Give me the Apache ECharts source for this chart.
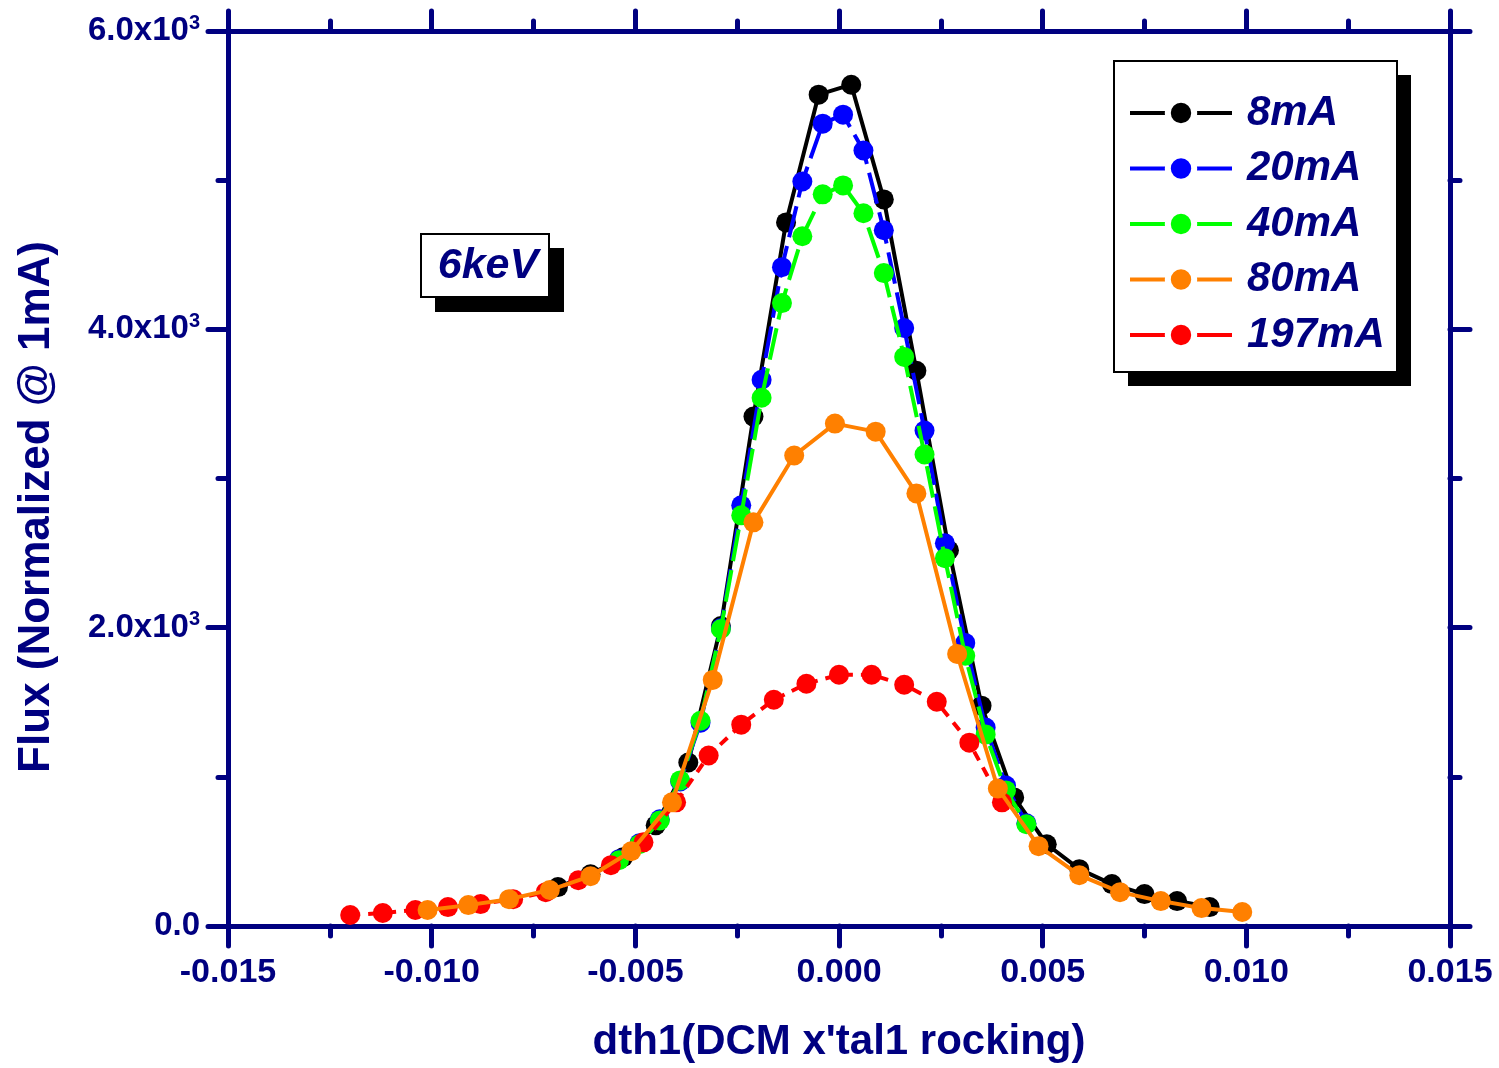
<!DOCTYPE html>
<html><head><meta charset="utf-8">
<script src="https://cdn.jsdelivr.net/npm/echarts@6/dist/echarts.min.js"></script>
<style>html,body{margin:0;padding:0;background:#fff}#c{width:1499px;height:1068px}</style>
</head><body><div id="c"></div>
<script>
const seriesNames = ['8mA','20mA','40mA','80mA','197mA'];
const seriesColors = ['#000000','#0000FF','#00FF00','#FF8000','#FF0000'];

const x8 = [-0.0069,-0.0061,-0.0053,-0.0045,-0.0037,-0.0029,-0.0021,-0.0013,-0.0005,0.0003,0.0011,0.0019,0.0027,0.0035,0.0043,0.0051,0.0059,0.0067,0.0075,0.0083,0.0091];
const y8 = [261,347,461,675,1096,2011,3415,4717,5573,5640,4871,3722,2519,1477,862,548,381,281,214,167,127];

const x20 = [-0.0054,-0.0049,-0.0044,-0.0039,-0.0034,-0.0029,-0.0024,-0.0019,-0.0014,-0.0009,-0.0004,0.0001,0.0006,0.0011,0.0016,0.0021,0.0026,0.0031,0.0036,0.0041,0.0046];
const y20 = [448,555,715,969,1363,1998,2820,3662,4417,4991,5379,5439,5199,4664,4009,3321,2566,1898,1330,942,688];

const x40 = [-0.0054,-0.0049,-0.0044,-0.0039,-0.0034,-0.0029,-0.0024,-0.0019,-0.0014,-0.0009,-0.0004,0.0001,0.0006,0.0011,0.0016,0.0021,0.0026,0.0031,0.0036,0.0041,0.0046];
const y40 = [441,548,708,976,1376,1991,2753,3541,4176,4624,4905,4965,4778,4377,3815,3161,2466,1811,1283,909,682];

const x80 = [-0.0101,-0.0091,-0.0081,-0.0071,-0.0061,-0.0051,-0.0041,-0.0031,-0.0021,-0.0011,-0.0001,0.0009,0.0019,0.0029,0.0039,0.0049,0.0059,0.0069,0.0079,0.0089,0.0099];
const y80 = [107,140,180,241,334,501,829,1650,2706,3154,3368,3314,2900,1824,922,535,341,227,167,120,94];

const x197 = [-0.012,-0.0112,-0.0104,-0.0096,-0.0088,-0.008,-0.0072,-0.0064,-0.0056,-0.0048,-0.004,-0.0032,-0.0024,-0.0016,-0.0008,0,0.0008,0.0016,0.0024,0.0032,0.004];
const y197 = [74,87,107,127,147,180,227,307,408,561,829,1143,1350,1517,1624,1684,1684,1617,1503,1229,829];

const xTicks = {min:-0.015, max:0.015, interval:0.005};
const yTicks = {min:0, max:6000, interval:2000};
const xTitle = "dth1(DCM x'tal1 rocking)";
const yTitle = 'Flux (Normalized @ 1mA)';
const annotation = '6keV';

const navy = '#000080';
const FONT = 'Liberation Sans';
const xs = [x8,x20,x40,x80,x197];
const ys = [y8,y20,y40,y80,y197];
const dashes = ['solid',[32,9],[32,9],'solid',[10,8]];
const zs = [2,3,4,6,5];

const chart = echarts.init(document.getElementById('c'));
const axisLineStyle = {color:navy, width:5, cap:'round'};
const tickCommon = {show:true, length:20, lineStyle:{color:navy,width:5, cap:'round'}};
const minorCommon = {show:true, splitNumber:2, length:10, lineStyle:{color:navy,width:5, cap:'round'}};

const series = seriesNames.map((n,i)=>({
  name:n, type:'line', z:zs[i],
  data: xs[i].map((v,j)=>[v, ys[i][j]]),
  symbol:'circle', symbolSize:20,
  itemStyle:{color:seriesColors[i]},
  lineStyle:{color:seriesColors[i], width:4, type:dashes[i]},
  animation:false
}));

chart.setOption({
  animation:false,
  grid:{left:228, width:1222, top:31, height:898, show:false},
  xAxis:[{
    type:'value', position:'bottom', min:xTicks.min, max:xTicks.max, interval:xTicks.interval,
    axisLine:{show:true, onZero:false, lineStyle:axisLineStyle},
    axisTick:tickCommon, minorTick:minorCommon, splitLine:{show:false},
    axisLabel:{margin:30, color:navy, fontFamily:FONT, fontWeight:'bold', fontSize:34,
      formatter:v=>v.toFixed(3)},
    name:xTitle, nameLocation:'middle', nameGap:95,
    nameTextStyle:{color:navy, fontFamily:FONT, fontWeight:'bold', fontSize:42}
  },{
    type:'value', position:'top', min:xTicks.min, max:xTicks.max, interval:xTicks.interval,
    axisLine:{show:true, onZero:false, lineStyle:axisLineStyle},
    axisTick:tickCommon, minorTick:minorCommon, splitLine:{show:false},
    axisLabel:{show:false}
  }],
  yAxis:[{
    type:'value', position:'left', min:yTicks.min, max:yTicks.max, interval:yTicks.interval,
    axisLine:{show:true, onZero:false, lineStyle:axisLineStyle},
    axisTick:tickCommon, minorTick:minorCommon, splitLine:{show:false},
    axisLabel:{margin:28,
      formatter:v=> v===0 ? '{a|0.0}' : '{a|'+(v/1000).toFixed(1)+'x10}{s|3}',
      rich:{
        a:{color:navy, fontFamily:FONT, fontWeight:'bold', fontSize:33},
        s:{color:navy, fontFamily:FONT, fontWeight:'bold', fontSize:20, verticalAlign:'bottom', padding:[0,0,16,0]}
      }}
  },{
    type:'value', position:'right', min:yTicks.min, max:yTicks.max, interval:yTicks.interval,
    axisLine:{show:true, onZero:false, lineStyle:axisLineStyle},
    axisTick:tickCommon, minorTick:minorCommon, splitLine:{show:false},
    axisLabel:{show:false}
  }],
  legend:{
    orient:'vertical', left:1128, top:91, padding:0, itemGap:11.5, z:20,
    itemWidth:102, itemHeight:33,
    data:seriesNames,
    lineStyle:{type:'solid', width:4},
    itemStyle:{borderColor:'#fff', borderWidth:6},
    textStyle:{color:navy, fontFamily:FONT, fontWeight:'bold', fontStyle:'italic', fontSize:42, lineHeight:44, padding:[0,0,0,10]}
  },
  graphic:[
    {type:'rect', z:10, shape:{x:1128,y:75,width:283,height:311}, style:{fill:'#000'}},
    {type:'rect', z:11, shape:{x:1114,y:61,width:283,height:311}, style:{fill:'#fff', stroke:'#000', lineWidth:2}},
    {type:'rect', z:10, shape:{x:435,y:248,width:129,height:64}, style:{fill:'#000'}},
    {type:'rect', z:11, shape:{x:421,y:234,width:128,height:63}, style:{fill:'#fff', stroke:'#000', lineWidth:2}},
    {type:'text', z:12, x:488, y:266, style:{text:annotation, fill:navy, font:'italic bold 43px "Liberation Sans"', align:'center', verticalAlign:'middle'}},
    {type:'text', z:12, x:37, y:507, rotation:Math.PI/2, style:{text:yTitle, fill:navy, font:'bold 44px "Liberation Sans"', align:'center', verticalAlign:'middle'}}
  ],
  series: series
});
</script></body></html>
